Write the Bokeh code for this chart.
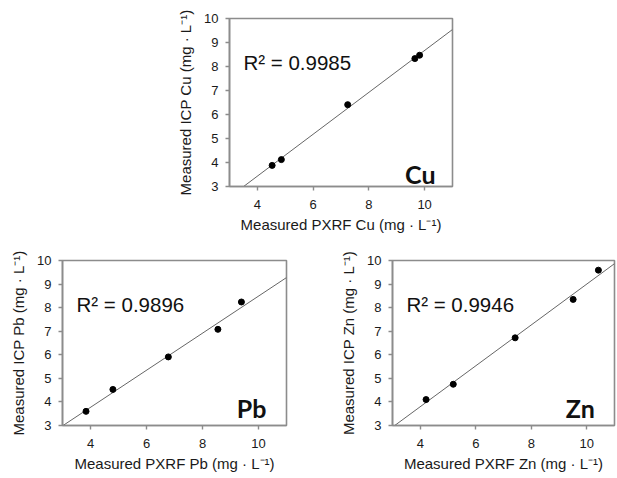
import numpy as np
from bokeh.plotting import figure
from bokeh.layouts import column, row
from bokeh.models import Spacer, Label, ColumnDataSource
from bokeh.embed import file_html
from bokeh.resources import INLINE

# ---- data ----
elements = ["Cu", "Pb", "Zn"]
cu_pxrf = [4.53, 4.86, 7.24, 9.65, 9.82]
cu_icp = [3.88, 4.12, 6.41, 8.33, 8.47]
pb_pxrf = [3.84, 4.80, 6.78, 8.55, 9.39]
pb_icp = [3.60, 4.53, 5.91, 7.08, 8.24]
zn_pxrf = [4.21, 5.19, 7.42, 9.51, 10.42]
zn_icp = [4.10, 4.75, 6.72, 8.35, 9.59]
r2_values = ["0.9985", "0.9896", "0.9946"]
x_ticks = [4, 6, 8, 10]
y_ticks = [3, 4, 5, 6, 7, 8, 9, 10]

FONT = "Liberation Sans"
GRAY = "#8c8c8c"


def make_panel(el, xs, ys, r2, width, height, mb_left, mb_right, mb_top, mb_bottom,
               tag_x, tag_y):
    p = figure(width=width, height=height, x_range=(3, 11), y_range=(3, 10),
               output_backend="svg", toolbar_location=None,
               min_border_left=mb_left, min_border_right=mb_right,
               min_border_top=mb_top, min_border_bottom=mb_bottom)
    p.grid.visible = False
    p.background_fill_color = "white"
    p.border_fill_color = "white"
    p.outline_line_color = GRAY
    p.outline_line_width = 1.6

    p.xaxis.ticker = x_ticks
    p.yaxis.ticker = y_ticks
    for ax in (p.xaxis, p.yaxis):
        ax.axis_line_color = GRAY
        ax.axis_line_width = 1.6
        ax.major_tick_line_color = GRAY
        ax.major_tick_line_width = 1.4
        ax.minor_tick_line_color = None
        ax.major_tick_out = 4
        ax.major_tick_in = 0
        ax.major_label_text_font = FONT
        ax.major_label_text_font_size = "13px"
        ax.major_label_text_color = "#1a1a1a"
        ax.axis_label_text_font = FONT
        ax.axis_label_text_font_size = "15px"
        ax.axis_label_text_font_style = "normal"
        ax.axis_label_text_color = "#1a1a1a"
    p.xaxis.major_label_standoff = 9
    p.yaxis.major_label_standoff = 7
    p.xaxis.axis_label_standoff = 4
    p.yaxis.axis_label_standoff = 7
    p.xaxis.axis_label = f"Measured PXRF {el} (mg · L\u207b\u00b9)"
    p.yaxis.axis_label = f"Measured ICP {el} (mg · L\u207b\u00b9)"

    # regression line computed from the data
    slope, intercept = np.polyfit(xs, ys, 1)
    lx = [3.0, 11.0]
    ly = [slope * v + intercept for v in lx]
    p.line(lx, ly, line_color="#666666", line_width=1)

    src = ColumnDataSource(dict(x=xs, y=ys))
    p.scatter("x", "y", source=src, size=6, fill_color="black", line_color="black")

    p.add_layout(Label(x=3.5, y=8.15, text=f"R\u00b2 = {r2}", text_font=FONT,
                       text_font_size="20.5px", text_color="#111111",
                       text_baseline="alphabetic"))
    p.add_layout(Label(x=tag_x, y=tag_y, text=el, text_font="Lato",
                       text_font_style="bold", text_font_size="25px",
                       text_color="#111111", text_align="right",
                       text_baseline="alphabetic"))
    return p


# page origin is (0, 0): the Bokeh template sets the body margin to 0
p_cu = make_panel(elements[0], cu_pxrf, cu_icp, r2_values[0],
                  width=60 + 223 + 10, height=18 + 168 + 55,
                  mb_left=60, mb_right=10, mb_top=18, mb_bottom=55,
                  tag_x=10.39, tag_y=3.53)
p_pb = make_panel(elements[1], pb_pxrf, pb_icp, r2_values[1],
                  width=62 + 224 + 51, height=18 + 166 + 51,
                  mb_left=62, mb_right=51, mb_top=18, mb_bottom=51,
                  tag_x=10.28, tag_y=3.74)
p_zn = make_panel(elements[2], zn_pxrf, zn_icp, r2_values[2],
                  width=55 + 222 + 2, height=19 + 166 + 50,
                  mb_left=55, mb_right=2, mb_top=19, mb_bottom=50,
                  tag_x=10.29, tag_y=3.74)

layout = column(row(Spacer(width=169, height=241), p_cu, spacing=0),
                row(p_pb, p_zn, spacing=0), spacing=0)

open("out.html", "w").write(file_html(layout, INLINE))
